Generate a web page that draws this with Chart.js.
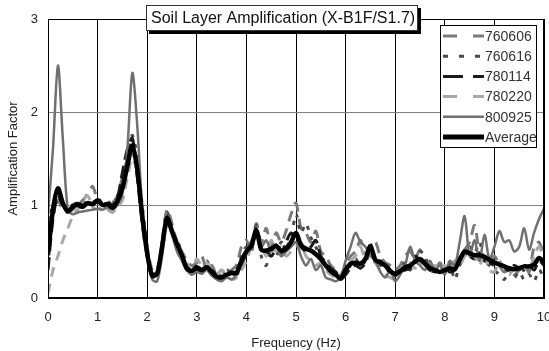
<!DOCTYPE html>
<html>
<head>
<meta charset="utf-8">
<script src="https://cdn.jsdelivr.net/npm/chart.js@4/dist/chart.umd.min.js"></script>
<style>
  html, body { margin: 0; padding: 0; background: #fff; }
  #wrap { width: 549px; height: 351px; }
</style>
</head>
<body>
<div id="wrap"><canvas id="ampChart" width="549" height="351"></canvas></div>
<script>
// frequency samples (Hz)
const freq = [
  0.0, 0.1, 0.2, 0.3, 0.4, 0.5, 0.6, 0.7, 0.8, 0.9,
  1.0, 1.1, 1.2, 1.3, 1.4, 1.5, 1.6, 1.7, 1.8, 1.9,
  2.0, 2.1, 2.2, 2.3, 2.4, 2.5, 2.6, 2.7, 2.8, 2.9,
  3.0, 3.1, 3.2, 3.3, 3.4, 3.5, 3.6, 3.7, 3.8, 3.9,
  4.0, 4.1, 4.2, 4.3, 4.4, 4.5, 4.6, 4.7, 4.8, 4.9,
  5.0, 5.1, 5.2, 5.3, 5.4, 5.5, 5.6, 5.7, 5.8, 5.9,
  6.0, 6.1, 6.2, 6.3, 6.4, 6.5, 6.6, 6.7, 6.8, 6.9,
  7.0, 7.1, 7.2, 7.3, 7.4, 7.5, 7.6, 7.7, 7.8, 7.9,
  8.0, 8.1, 8.2, 8.3, 8.4, 8.5, 8.6, 8.7, 8.8, 8.9,
  9.0, 9.1, 9.2, 9.3, 9.4, 9.5, 9.6, 9.7, 9.8, 9.9,
  10.0
];

// amplification per earthquake record
const eq760606 = [
  0.85, 0.90, 1.05, 0.95, 0.92, 0.95, 1.00, 1.05, 1.12, 1.20,
  1.05, 1.00, 0.98, 1.02, 1.10, 1.30, 1.48, 1.55, 1.40, 0.95,
  0.55, 0.30, 0.25, 0.60, 0.95, 0.80, 0.55, 0.50, 0.40, 0.35,
  0.38, 0.45, 0.30, 0.35, 0.25, 0.30, 0.22, 0.30, 0.35, 0.55,
  0.62, 0.50, 0.80, 0.60, 0.75, 0.55, 0.70, 0.60, 0.72, 0.90,
  1.02, 0.75, 0.70, 0.60, 0.72, 0.50, 0.45, 0.35, 0.30, 0.25,
  0.35, 0.45, 0.50, 0.62, 0.48, 0.55, 0.60, 0.45, 0.38, 0.35,
  0.30, 0.35, 0.45, 0.50, 0.42, 0.52, 0.40, 0.35, 0.30, 0.38,
  0.28, 0.35, 0.30, 0.45, 0.52, 0.60, 0.78, 0.50, 0.45, 0.38,
  0.45, 0.35, 0.28, 0.30, 0.25, 0.30, 0.35, 0.28, 0.55, 0.60,
  0.45
];
const eq760616 = [
  0.80, 1.00, 1.10, 1.00, 0.95, 1.00, 1.02, 1.00, 1.05, 1.02,
  1.08, 1.02, 1.04, 1.00, 1.08, 1.25, 1.50, 1.75, 1.50, 1.00,
  0.55, 0.25, 0.30, 0.60, 0.92, 0.75, 0.62, 0.50, 0.35, 0.30,
  0.35, 0.30, 0.40, 0.28, 0.22, 0.25, 0.30, 0.28, 0.30, 0.45,
  0.55, 0.50, 0.78, 0.45, 0.35, 0.55, 0.45, 0.60, 0.55, 0.65,
  0.90, 0.70, 0.80, 0.65, 0.55, 0.40, 0.35, 0.30, 0.28, 0.22,
  0.28, 0.35, 0.42, 0.35, 0.40, 0.58, 0.42, 0.35, 0.38, 0.30,
  0.28, 0.30, 0.38, 0.30, 0.42, 0.50, 0.45, 0.30, 0.35, 0.25,
  0.32, 0.38, 0.20, 0.35, 0.45, 0.55, 0.48, 0.60, 0.40, 0.35,
  0.30, 0.25, 0.20, 0.30, 0.22, 0.28, 0.20, 0.25, 0.18, 0.30,
  0.22
];
const eq780114 = [
  0.30, 0.85, 1.10, 1.00, 0.98, 1.00, 1.02, 1.00, 1.02, 1.00,
  1.05, 1.00, 1.02, 1.00, 1.08, 1.35, 1.60, 1.72, 1.30, 0.80,
  0.45, 0.25, 0.30, 0.55, 0.85, 0.70, 0.55, 0.42, 0.30, 0.32,
  0.30, 0.28, 0.32, 0.30, 0.25, 0.22, 0.24, 0.26, 0.25, 0.35,
  0.48, 0.60, 0.70, 0.55, 0.50, 0.45, 0.52, 0.48, 0.60, 0.70,
  0.62, 0.55, 0.50, 0.55, 0.62, 0.45, 0.38, 0.32, 0.28, 0.20,
  0.25, 0.32, 0.35, 0.32, 0.38, 0.50, 0.38, 0.40, 0.32, 0.28,
  0.24, 0.28, 0.30, 0.32, 0.45, 0.40, 0.35, 0.30, 0.28, 0.30,
  0.32, 0.28, 0.30, 0.40, 0.48, 0.45, 0.42, 0.48, 0.40, 0.38,
  0.35, 0.38, 0.32, 0.30, 0.35, 0.32, 0.30, 0.35, 0.30, 0.40,
  0.35
];
const eq780220 = [
  0.05, 0.30, 0.45, 0.62, 0.75, 0.88, 0.95, 1.05, 1.10, 0.98,
  0.95, 0.98, 0.95, 0.92, 0.98, 1.05, 1.30, 1.50, 1.35, 0.85,
  0.45, 0.22, 0.28, 0.50, 0.80, 0.75, 0.62, 0.50, 0.38, 0.30,
  0.42, 0.35, 0.38, 0.30, 0.25, 0.30, 0.25, 0.20, 0.22, 0.30,
  0.40, 0.55, 0.65, 0.58, 0.45, 0.62, 0.50, 0.55, 0.45, 0.50,
  0.55, 0.60, 0.45, 0.40, 0.35, 0.38, 0.30, 0.25, 0.22, 0.25,
  0.30, 0.40, 0.45, 0.55, 0.42, 0.50, 0.38, 0.30, 0.25, 0.22,
  0.20, 0.30, 0.35, 0.38, 0.32, 0.40, 0.35, 0.28, 0.35, 0.30,
  0.35, 0.28, 0.40, 0.35, 0.45, 0.50, 0.45, 0.35, 0.50, 0.30,
  0.28, 0.40, 0.30, 0.25, 0.32, 0.28, 0.35, 0.30, 0.45, 0.55,
  0.40
];
const eq800925 = [
  0.90, 1.60, 2.50, 1.70, 0.95, 0.90, 0.92, 0.93, 0.94, 0.95,
  0.96, 0.95, 0.97, 0.95, 1.00, 1.12, 1.60, 2.42, 1.85, 0.95,
  0.45, 0.20, 0.18, 0.45, 0.80, 0.68, 0.50, 0.40, 0.30, 0.25,
  0.28, 0.26, 0.30, 0.24, 0.20, 0.18, 0.22, 0.20, 0.25, 0.38,
  0.48, 0.60, 0.70, 0.55, 0.62, 0.50, 0.58, 0.45, 0.50, 0.55,
  0.60, 0.45, 0.35, 0.42, 0.30, 0.35, 0.22, 0.20, 0.18, 0.22,
  0.40, 0.55, 0.70, 0.60, 0.55, 0.45, 0.40, 0.28, 0.22, 0.30,
  0.18, 0.25, 0.35, 0.55, 0.40, 0.35, 0.30, 0.40, 0.30, 0.35,
  0.25, 0.40, 0.35, 0.60, 0.88, 0.45, 0.62, 0.40, 0.68, 0.42,
  0.55, 0.72, 0.60, 0.62, 0.50, 0.55, 0.75, 0.52, 0.70, 0.85,
  0.96
];
const average = [
  0.46, 0.95, 1.18, 1.02, 0.93, 0.98, 1.00, 0.98, 1.02, 1.01,
  1.05, 1.00, 1.01, 0.97, 1.04, 1.18, 1.42, 1.64, 1.38, 0.88,
  0.48, 0.24, 0.26, 0.55, 0.86, 0.72, 0.58, 0.46, 0.32, 0.29,
  0.33, 0.30, 0.33, 0.28, 0.23, 0.22, 0.25, 0.27, 0.27, 0.40,
  0.50, 0.56, 0.73, 0.52, 0.51, 0.53, 0.56, 0.51, 0.53, 0.60,
  0.70, 0.57, 0.53, 0.51, 0.47, 0.42, 0.35, 0.29, 0.25, 0.21,
  0.30, 0.37, 0.38, 0.37, 0.42, 0.56, 0.41, 0.38, 0.35, 0.29,
  0.26, 0.29, 0.33, 0.35, 0.39, 0.42, 0.37, 0.32, 0.30, 0.28,
  0.30, 0.32, 0.31, 0.41, 0.50, 0.48, 0.46, 0.46, 0.44, 0.41,
  0.38, 0.36, 0.34, 0.32, 0.31, 0.32, 0.34, 0.34, 0.36, 0.43,
  0.39
];

const seriesNames = ['760606', '760616', '780114', '780220', '800925', 'Average'];
const yTicks = [0, 1, 2, 3];
const chartTitle = 'Soil Layer Amplification (X-B1F/S1.7)';

function toPoints(vals) {
  return freq.map((f, i) => ({ x: f, y: vals[i] }));
}

const styles = [
  { color: '#7a7a7a', width: 3,   dash: [11, 7] },
  { color: '#4a4a4a', width: 3,   dash: [4, 7] },
  { color: '#1a1a1a', width: 3,   dash: [13, 6] },
  { color: '#a8a8a8', width: 3,   dash: [10, 7] },
  { color: '#707070', width: 2.5, dash: [] },
  { color: '#000000', width: 4.5, dash: [] }
];
// legend samples use a longer dash so the pattern reads at small size
const legendDash = [[14, 16], [5, 11], [20, 10], [14, 16], [], []];
const values = [eq760606, eq760616, eq780114, eq780220, eq800925, average];

const datasets = values.map((v, i) => ({
  label: seriesNames[i],
  data: toPoints(v),
  borderColor: styles[i].color,
  borderWidth: styles[i].width,
  borderDash: styles[i].dash,
  pointRadius: 0,
  tension: 0.3,
  fill: false,
  order: i === 5 ? 0 : 6 - i
}));

const labelFont = '"Liberation Sans", Arial, sans-serif';

// title box with drop shadow, legend box, and the closed plot frame
const boxesPlugin = {
  id: 'boxes',
  afterDatasetsDraw(chart) {
    const ctx = chart.ctx;
    const a = chart.chartArea;
    ctx.save();
    ctx.strokeStyle = '#000';
    ctx.lineWidth = 1;
    ctx.strokeRect(a.left + 0.5, a.top + 0.5, a.right - a.left - 1, a.bottom - a.top - 1);

    // title
    ctx.fillStyle = '#000';
    ctx.fillRect(149, 8, 272, 26);
    ctx.fillStyle = '#fff';
    ctx.fillRect(146, 5, 272, 26);
    ctx.strokeStyle = '#333';
    ctx.strokeRect(146.5, 5.5, 271, 25);
    ctx.fillStyle = '#111';
    ctx.font = '16px ' + labelFont;
    ctx.textBaseline = 'middle';
    ctx.fillText(chartTitle, 151, 19);

    // legend
    ctx.fillStyle = '#fff';
    ctx.fillRect(440, 25, 96, 122);
    ctx.strokeStyle = '#000';
    ctx.strokeRect(440.5, 25.5, 96, 122);
    ctx.font = '14px ' + labelFont;
    seriesNames.forEach((name, i) => {
      const y = 36 + i * 20.2;
      ctx.beginPath();
      ctx.setLineDash(legendDash[i]);
      ctx.lineWidth = i === 5 ? 5 : styles[i].width;
      ctx.strokeStyle = styles[i].color;
      ctx.moveTo(443, y);
      ctx.lineTo(484, y);
      ctx.stroke();
      ctx.setLineDash([]);
      ctx.fillStyle = '#333';
      ctx.fillText(name, 485, y + 1);
    });
    ctx.restore();
  }
};

new Chart(document.getElementById('ampChart'), {
  type: 'line',
  data: { datasets: datasets },
  options: {
    responsive: false,
    animation: false,
    layout: { padding: { top: 19, right: 5, left: 0, bottom: 0 } },
    plugins: { legend: { display: false }, tooltip: { enabled: false } },
    scales: {
      x: {
        type: 'linear',
        min: 0,
        max: 10,
        ticks: {
          stepSize: 1,
          padding: 12,
          color: '#222',
          font: { size: 13, family: labelFont }
        },
        grid: { color: '#000', lineWidth: 1, drawTicks: false },
        border: { color: '#000' },
        title: {
          display: true,
          text: 'Frequency (Hz)',
          color: '#222',
          padding: { top: 4, bottom: 0 },
          font: { size: 13, family: labelFont }
        },
        afterFit(scale) {
          scale.height = 53;
          scale.paddingLeft = 0;
          scale.paddingRight = 0;
        }
      },
      y: {
        type: 'linear',
        min: 0,
        max: 3,
        afterBuildTicks(scale) {
          scale.ticks = yTicks.map(v => ({ value: v }));
        },
        ticks: {
          padding: 10,
          color: '#222',
          font: { size: 13, family: labelFont }
        },
        grid: { color: '#808080', lineWidth: 1, drawTicks: false },
        border: { color: '#000' },
        title: {
          display: true,
          text: 'Amplification Factor',
          color: '#222',
          padding: { top: 6, bottom: 0 },
          font: { size: 13, family: labelFont }
        },
        afterFit(scale) {
          scale.width = 48;
          scale.paddingTop = 0;
          scale.paddingBottom = 0;
        }
      }
    }
  },
  plugins: [boxesPlugin]
});
</script>
</body>
</html>
